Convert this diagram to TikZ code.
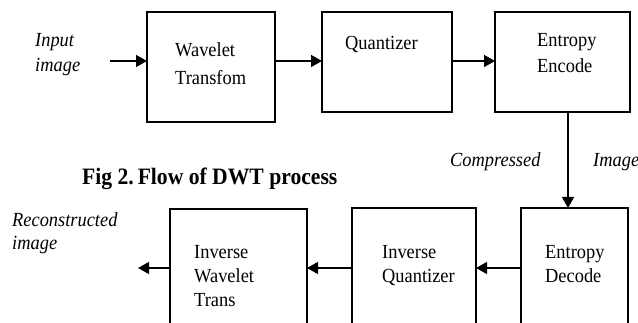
\documentclass[tikz,border=0pt]{standalone}
\usepackage{fontspec}
\setmainfont[FakeStretch=0.92]{Liberation Serif}
\usetikzlibrary{arrows.meta}

\begin{document}
\begin{tikzpicture}[x=1pt,y=-1pt,
  box/.style={draw=black,line width=1.3pt,anchor=north west,inner sep=0pt,outer sep=0pt},
  lbl/.style={anchor=base west,align=left,inner sep=0pt,font=\fontsize{20}{24}\selectfont},
  ital/.style={lbl,font=\fontsize{20}{24}\selectfont\itshape},
  flow/.style={line width=1.3pt,-{Triangle[length=11pt,width=12pt]}}]
\clip (0,0) rectangle (638,323);
\fill[white] (0,0) rectangle (638,323);

% processing blocks
\node[box,minimum width=128pt,minimum height=110pt] (wt) at (147,12) {};
\node[box,minimum width=130pt,minimum height=100pt] (qz) at (322,12) {};
\node[box,minimum width=135pt,minimum height=100pt] (ee) at (495,12) {};
\node[box,minimum width=107pt,minimum height=140pt] (ed) at (521,208) {};
\node[box,minimum width=124pt,minimum height=140pt] (iq) at (352,208) {};
\node[box,minimum width=137pt,minimum height=140pt] (iw) at (170,209) {};

% block captions (anchored at the baseline of their last line)
\node[lbl,font=\fontsize{20}{28}\selectfont] (twt) at (175,85) {Wavelet\\Transfom};
\node[lbl] (tqz) at (345,50) {Quantizer};
\node[lbl,font=\fontsize{20}{26}\selectfont] (tee) at (537,73) {Entropy\\Encode};
\node[lbl] (ted) at (545,283) {Entropy\\Decode};
\node[lbl] (tiq) at (382,283) {Inverse\\Quantizer};
\node[lbl] (tiw) at (194,307) {Inverse\\Wavelet\\Trans};

% signal labels
\node[ital,font=\fontsize{20}{25}\selectfont\itshape] (tin) at (35,72) {Input\\image};
\node[ital] (tcmp) at (450,167) {Compressed};
\node[ital] (timg) at (593,167) {Image};
\node[ital,font=\fontsize{20}{23}\selectfont\itshape] (trec) at (12,250) {Reconstructed\\image};

% figure title
\node[anchor=base west,inner sep=0pt,font=\fontsize{23.5}{26}\selectfont\bfseries] (fig) at (82,185) {Fig 2.\,Flow of DWT process};

% connectors
\coordinate (in) at (110,61);
\coordinate (ex) at (568,0);
\coordinate (out) at (138,268);
\draw[flow] (in) -- (in -| wt.west);
\draw[flow] (wt.east |- in) -- (qz.west |- in);
\draw[flow] (qz.east |- in) -- (ee.west |- in);
\draw[flow] (ee.south -| ex) -- (ed.north -| ex);
\draw[flow] (ed.west |- out) -- (iq.east |- out);
\draw[flow] (iq.west |- out) -- (iw.east |- out);
\draw[flow] (iw.west |- out) -- (out);
\end{tikzpicture}
\end{document}
